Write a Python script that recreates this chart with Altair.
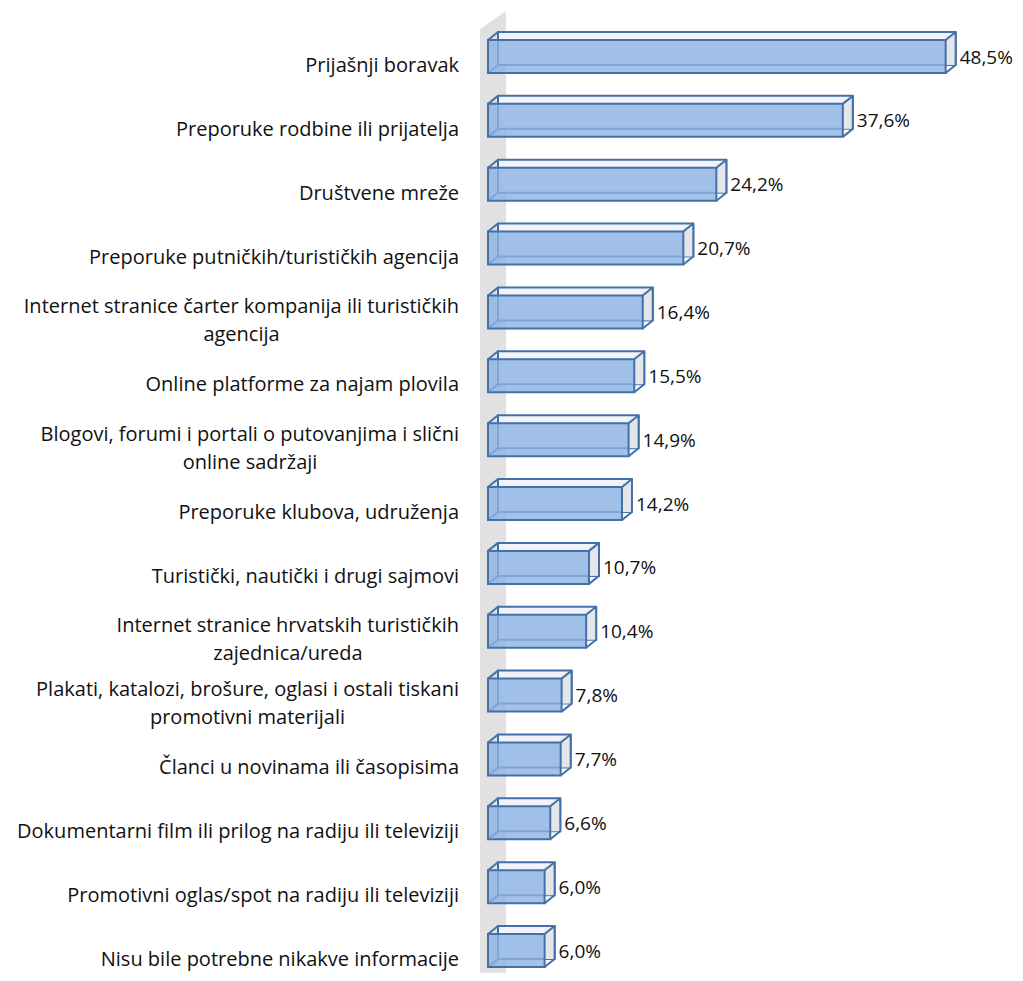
import altair as alt
import pandas as pd

categories = [
    "Prijašnji boravak",
    "Preporuke rodbine ili prijatelja",
    "Društvene mreže",
    "Preporuke putničkih/turističkih agencija",
    "Internet stranice čarter kompanija ili turističkih\nagencija",
    "Online platforme za najam plovila",
    "Blogovi, forumi i portali o putovanjima i slični\nonline sadržaji",
    "Preporuke klubova, udruženja",
    "Turistički, nautički i drugi sajmovi",
    "Internet stranice hrvatskih turističkih\nzajednica/ureda",
    "Plakati, katalozi, brošure, oglasi i ostali tiskani\npromotivni materijali",
    "Članci u novinama ili časopisima",
    "Dokumentarni film ili prilog na radiju ili televiziji",
    "Promotivni oglas/spot na radiju ili televiziji",
    "Nisu bile potrebne nikakve informacije",
]
values = [48.5, 37.6, 24.2, 20.7, 16.4, 15.5, 14.9, 14.2, 10.7, 10.4, 7.8, 7.7, 6.6, 6.0, 6.0]

df = pd.DataFrame({
    "line1": [c.split("\n")[0] for c in categories],
    "line2": [c.split("\n")[1] if "\n" in c else "" for c in categories],
    "val": values,
    "idx": list(range(len(categories))),
    "zero": [0] * len(categories),
    "nlines": [c.count("\n") + 1 for c in categories],
    "lbl": [f"{v:.1f}".replace(".", ",") + "%" for v in values],
})

W, H = 519, 938
BLUE = "#4470A8"
FONT = "Open Sans"
FS = 20
TXT = "#111111"

xs = alt.Scale(domain=[0, 55], nice=False, zero=False)
ys = alt.Scale(domain=[-0.415, 14.273], reverse=True, nice=False, zero=False)

base = alt.Chart(df)

def X(f):
    return alt.X(f, type="quantitative", scale=xs, axis=None)

def Y(f):
    return alt.Y(f, type="quantitative", scale=ys, axis=None)

wall_path = f"M-8,-1 L18,-19 L18,{H + 5} L-8,{H + 5} Z"
wall = alt.Chart(pd.DataFrame({"k": [0]})).mark_point(
    shape=wall_path, size=4, filled=True, fill="#e1e1e1", opacity=1, strokeWidth=0
).encode(x=alt.value(0), y=alt.value(0))

back = base.mark_rect(
    xOffset=10, x2Offset=10, yOffset=-24.5, y2Offset=8.5,
    fill="#f1f3f7", stroke=BLUE, strokeWidth=2,
).encode(x=X("zero"), x2="val", y=Y("idx"), y2="idx")

side = base.mark_rect(
    x2Offset=10, yOffset=-20.5, y2Offset=8.5, fill="#e3e6eb", strokeWidth=0,
).encode(x=X("val"), x2="val", y=Y("idx"), y2="idx")

def diag(xf, y1, y2):
    return base.mark_rule(
        yOffset=y1, y2Offset=y2, x2Offset=10, color=BLUE, strokeWidth=2
    ).encode(x=X(xf), x2=xf, y=Y("idx"), y2="idx")

diags = [
    diag("zero", -16.5, -24.5),
    diag("val", -16.5, -24.5),
    diag("val", 16.5, 8.5),
    diag("zero", 16.5, 8.5),
]

back_edges = base.mark_rule(
    xOffset=10, x2Offset=10, yOffset=-24.5, y2Offset=8.5, color=BLUE, strokeWidth=2
).encode(x=X("val"), x2="val", y=Y("idx"), y2="idx")

front = base.mark_rect(
    yOffset=-16.5, y2Offset=16.5,
    fill="#8DB3E2", fillOpacity=0.8, stroke=BLUE, strokeWidth=2,
).encode(x=X("zero"), x2="val", y=Y("idx"), y2="idx")

pct = base.mark_text(
    align="left", baseline="middle", dx=14, dy=1, fontSize=19, font=FONT, color=TXT
).encode(x=X("val"), y=Y("idx"), text="lbl")

cats1 = base.transform_filter("datum.nlines == 1").mark_text(
    align="right", baseline="middle", dx=-29, dy=9.5, fontSize=FS, font=FONT, color=TXT,
).encode(x=X("zero"), y=Y("idx"), text="line1")

cats2a = base.transform_filter("datum.nlines == 2").mark_text(
    align="right", baseline="middle", dx=-29, dy=-5, fontSize=FS, font=FONT, color=TXT,
).encode(x=X("zero"), y=Y("idx"), text="line1")

# second lines are centred under their first line (centre of first line, px from axis)
line2_centre = {4: -246.5, 6: -238, 9: -200, 10: -240.5}
cats2b = [
    base.transform_filter(f"datum.idx == {k}").mark_text(
        align="center", baseline="middle", dx=c, dy=23, fontSize=FS, font=FONT, color=TXT,
    ).encode(x=X("zero"), y=Y("idx"), text="line2")
    for k, c in line2_centre.items()
]

chart = alt.layer(
    wall, back, side, back_edges, *diags, front, pct, cats1, cats2a, *cats2b
).properties(
    width=W, height=H,
    autosize=alt.AutoSizeParams(type="none"),
    padding={"left": 480, "top": 22, "right": 8, "bottom": 5},
).configure_view(stroke=None)

chart.save("out.html", embed_options={"renderer": "svg", "actions": False})
